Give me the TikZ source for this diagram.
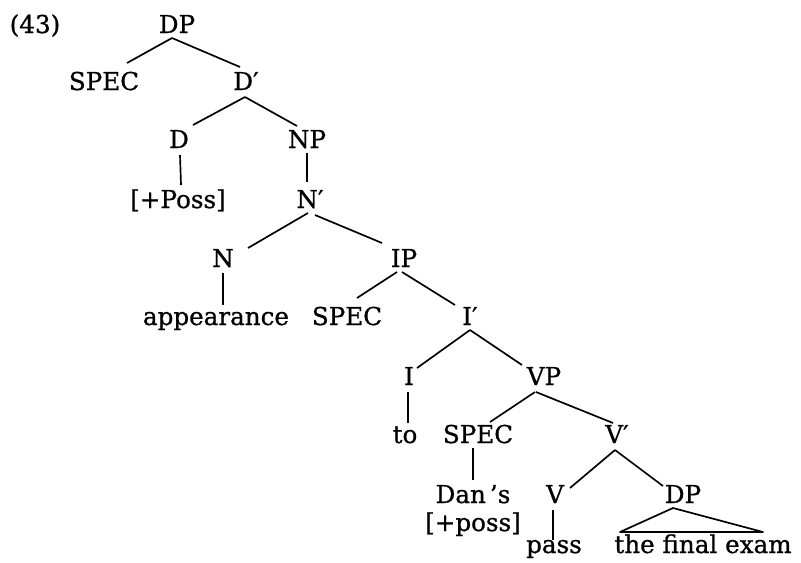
\documentclass[tikz,border=0pt]{standalone}
\usepackage{fontspec}
\setmainfont{DejaVu Serif}[FakeBold=0.8]
\tikzset{
	lab/.style={inner sep=0pt, anchor=base},
	branch/.style={line width=1.2pt},
}
\begin{document}
\begin{tikzpicture}[x=0.025cm, y=-0.025cm, font=\fontsize{17.5}{21}\selectfont]
		\useasboundingbox (0,0) rectangle (801,562);
		\node[lab] (ex) at (35,33) {(43)};
		\node[lab] (dp1) at (177,33) {DP};
		\node[lab] (spec1) at (104,90) {SPEC};
		\node[lab] (dbar) at (246,90) {D′};
		\node[lab] (d) at (179,148) {D};
		\node[lab] (np) at (307,148) {NP};
		\node[lab] (poss1) at (178,208) {[+Poss]};
		\node[lab] (nbar) at (310,208) {N′};
		\node[lab] (n) at (223,267) {N};
		\node[lab] (ip) at (404,267) {IP};
		\node[lab] (app) at (216,325) {appearance};
		\node[lab] (spec2) at (347,325) {SPEC};
		\node[lab] (ibar) at (470,325) {I′};
		\node[lab] (i) at (409,385) {I};
		\node[lab] (vp) at (544,385) {VP};
		\node[lab] (to) at (405,443) {to};
		\node[lab] (spec3) at (478,443) {SPEC};
		\node[lab] (vbar) at (617,443) {V′};
		\node[lab] (dans) at (473,503) {Dan\,'s};
		\node[lab] (v) at (555,503) {V};
		\node[lab] (dp2) at (683,503) {DP};
		\node[lab] (poss2) at (473,531) {[+poss]};
		\node[lab] (pass) at (554,553) {pass};
		\node[lab] (exam) at (703,553) {the final exam};
		% branches
		\draw [branch] ([shift={(-5,5)}]dp1.base) edge ([shift={(23,-27)}]spec1.base);
		\draw [branch] ([shift={(-5,5)}]dp1.base) edge ([shift={(-6,-23)}]dbar.base);
		\draw [branch] ([shift={(-1,7)}]dbar.base) edge ([shift={(14,-23)}]d.base);
		\draw [branch] ([shift={(-1,7)}]dbar.base) edge ([shift={(-10,-22)}]np.base);
		\draw [branch] ([shift={(1,7)}]d.base) edge ([shift={(3,-23)}]poss1.base);
		\draw [branch] ([shift={(0,5)}]np.base) edge ([shift={(-3,-26)}]nbar.base);
		\draw [branch] ([shift={(-2,5)}]nbar.base) edge ([shift={(25,-19)}]n.base);
		\draw [branch] ([shift={(5,7)}]nbar.base) edge ([shift={(-22,-24)}]ip.base);
		\draw [branch] ([shift={(0,6)}]n.base) edge ([shift={(7,-20)}]app.base);
		\draw [branch] ([shift={(-7,5)}]ip.base) edge ([shift={(10,-27)}]spec2.base);
		\draw [branch] ([shift={(-2,5)}]ip.base) edge ([shift={(-15,-20)}]ibar.base);
		\draw [branch] ([shift={(0,5)}]ibar.base) edge ([shift={(8,-17)}]i.base);
		\draw [branch] ([shift={(0,5)}]ibar.base) edge ([shift={(-22,-20)}]vp.base);
		\draw [branch] ([shift={(-1,7)}]i.base) edge ([shift={(3,-20)}]to.base);
		\draw [branch] ([shift={(-9,7)}]vp.base) edge ([shift={(12,-21)}]spec3.base);
		\draw [branch] ([shift={(-8,7)}]vp.base) edge ([shift={(-4,-20)}]vbar.base);
		\draw [branch] ([shift={(-5,5)}]spec3.base) edge ([shift={(0,-23)}]dans.base);
		\draw [branch] ([shift={(-2,7)}]vbar.base) edge ([shift={(15,-15)}]v.base);
		\draw [branch] ([shift={(-2,7)}]vbar.base) edge ([shift={(-20,-17)}]dp2.base);
		\draw [branch] ([shift={(-2,7)}]v.base) edge ([shift={(-1,-13)}]pass.base);
		\draw [branch, line join=round] ([shift={(-10,5)}]dp2.base) -- ([shift={(-83,-21)}]exam.base) -- ([shift={(60,-21)}]exam.base) -- cycle;
\end{tikzpicture}
\end{document}
